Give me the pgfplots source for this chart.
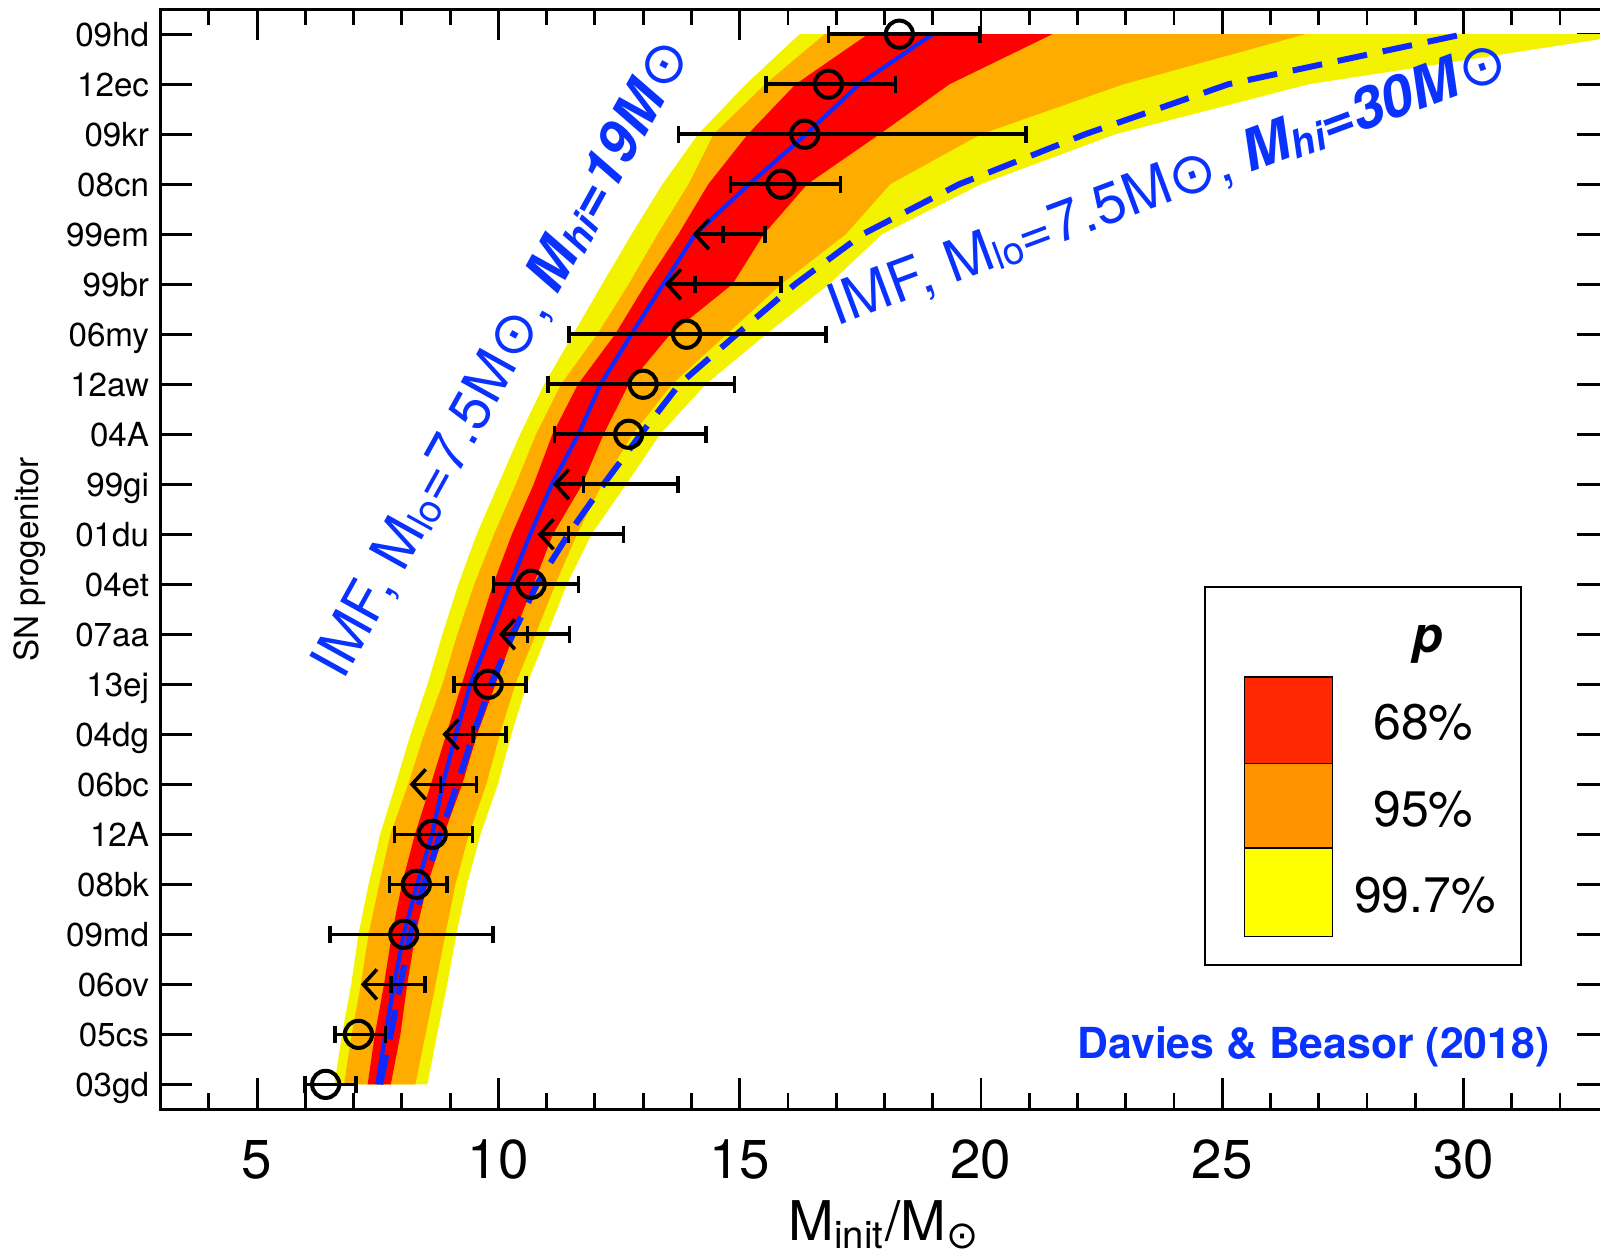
\documentclass[border=0pt]{standalone}
\usepackage{fontspec}
\setmainfont{TeX Gyre Heros}
\newfontfamily\dejavu{DejaVu Sans}
\usepackage{pgfplots}
\pgfplotsset{compat=1.18}
\usetikzlibrary{arrows.meta}
\definecolor{bandred}{RGB}{255,0,0}
\definecolor{bandorange}{RGB}{255,172,0}
\definecolor{bandyellow}{RGB}{243,243,0}
\definecolor{legred}{RGB}{255,40,0}
\definecolor{legorange}{RGB}{255,148,0}
\definecolor{legyellow}{RGB}{255,255,0}
\definecolor{lineblue}{RGB}{15,40,255}
\definecolor{textblue}{RGB}{10,50,255}
\newcommand\sun{{\dejavu ⊙}}
\newcommand\lo{\raisebox{-1pt}{\fontsize{9.7}{9.7}\selectfont lo}}
\newcommand\hi{\raisebox{-1pt}{\fontsize{9.7}{9.7}\selectfont hi}}
\begin{document}
\begin{tikzpicture}
\begin{axis}[
  scale only axis, width=362.3pt, height=275.35pt,
  xmin=3, xmax=33, ymin=-0.5, ymax=21.5,
  axis line style={line width=0.7pt},
  xtick={5,10,...,30}, minor xtick={3,4,...,33},
  ytick={0,...,21},
  yticklabels={03gd,05cs,06ov,09md,08bk,12A,06bc,04dg,13ej,07aa,04et,01du,99gi,04A,12aw,06my,99br,99em,08cn,09kr,12ec,09hd},
  tick align=inside,
  major tick length=7.8pt, minor tick length=4pt,
  every tick/.style={black, line width=0.7pt},
  /pgf/number format/assume math mode=true,
  xticklabel style={font=\fontsize{13.7}{15}\selectfont, anchor=base, yshift=-17.3pt},
  yticklabel style={font=\fontsize{8.3}{9}\selectfont, anchor=base east, inner sep=0pt, xshift=-2.7pt, yshift=-3pt},
  xlabel={M\textsubscript{init}/M\textsubscript{\sun}},
  xlabel style={font=\fontsize{13.7}{15}\selectfont, at={(axis description cs:0.5,-0.119)}, anchor=base, inner sep=0pt},
  ylabel={SN progenitor},
  ylabel style={font=\fontsize{8.3}{9}\selectfont, at={(axis description cs:-0.0903,0.5)}, anchor=center, inner sep=0pt},
]
% yellow band (99.7%)
\addplot[fill=bandyellow, draw=none] coordinates {
(6.60,0) (6.76,1) (6.95,2) (7.10,3) (7.31,4) (7.55,5) (7.87,6) (8.18,7) (8.53,8) (8.84,9) (9.17,10)
(9.55,11) (10.0,12) (10.45,13) (10.95,14) (11.55,15) (12.15,16) (12.76,17) (13.4,18) (14.14,19) (15.13,20) (16.24,21)
(33.5,21) (26.8,20) (22.79,19) (20.0,18) (17.95,17) (16.85,16) (15.55,15) (14.3,14) (13.35,13) (12.65,12) (11.93,11)
(11.42,10) (11.01,9) (10.59,8) (10.27,7) (9.99,6) (9.63,5) (9.35,4) (9.13,3) (8.94,2) (8.73,1) (8.53,0)
} -- cycle;
% orange band (95%)
\addplot[fill=bandorange, draw=none] coordinates {
(6.80,0) (6.96,1) (7.15,2) (7.31,3) (7.53,4) (7.76,5) (8.13,6) (8.46,7) (8.84,8) (9.15,9) (9.5,10)
(9.91,11) (10.36,12) (10.78,13) (11.3,14) (12.05,15) (12.7,16) (13.3,17) (13.94,18) (14.46,19) (15.53,20) (16.76,21)
(26.72,21) (22.96,20) (20.0,19) (18.12,18) (17.2,17) (15.86,16) (14.73,15) (13.6,14) (12.78,13) (12.15,12) (11.63,11)
(11.18,10) (10.77,9) (10.35,8) (10.03,7) (9.75,6) (9.39,5) (9.11,4) (8.90,3) (8.70,2) (8.49,1) (8.28,0)
} -- cycle;
% red band (68%)
\addplot[fill=bandred, draw=none] coordinates {
(7.29,0) (7.44,1) (7.63,2) (7.79,3) (8.00,4) (8.27,5) (8.6,6) (8.92,7) (9.24,8) (9.56,9) (9.89,10)
(10.28,11) (10.73,12) (11.12,13) (11.65,14) (12.42,15) (13.05,16) (13.73,17) (14.35,18) (15.17,19) (16.16,20) (17.66,21)
(21.48,21) (19.35,20) (17.9,19) (16.4,18) (15.5,17) (14.85,16) (13.56,15) (12.7,14) (12.18,13) (11.74,12) (11.13,11)
(10.73,10) (10.32,9) (9.94,8) (9.56,7) (9.25,6) (8.87,5) (8.53,4) (8.28,3) (8.11,2) (7.97,1) (7.77,0)
} -- cycle;
% IMF Mhi=19 (solid)
\addplot[lineblue, line width=1.05pt] coordinates {
(7.49,0) (7.66,1) (7.84,2) (8.04,3) (8.32,4) (8.63,5) (8.85,6) (9.12,7) (9.42,8) (9.84,9) (10.25,10)
(10.66,11) (11.11,12) (11.66,13) (12.12,14) (12.76,15) (13.42,16) (14.08,17) (15.2,18) (16.38,19) (17.48,20) (19.0,21)
};
% IMF Mhi=30 (dashed)
\addplot[lineblue, line width=1.5pt, dash pattern=on 7.5pt off 4pt] coordinates {
(7.55,0) (7.77,1) (7.97,2) (8.18,3) (8.46,4) (8.80,5) (9.15,6) (9.48,7) (9.85,8) (10.3,9) (10.80,10)
(11.45,11) (12.18,12) (12.95,13) (13.75,14) (14.94,15) (16.15,16) (17.55,17) (19.55,18) (22.16,19) (25.13,20) (30.0,21)
};
% detections
\addplot[black, only marks, mark=o, mark size=3.4pt, mark options={line width=1pt},
  error bars/.cd, x dir=both, x explicit, error mark=|,
  error bar style={line width=0.9pt},
  error mark options={black, mark size=2.1pt, line width=0.9pt}]
table[x=x, y=y, x error plus=ep, x error minus=em] {
x y em ep
18.31 21 1.47 1.67
16.84 20 1.29 1.39
16.35 19 2.62 4.58
15.86 18 1.05 1.23
13.90 15 2.44 2.89
13.00 14 1.97 1.89
12.70 13 1.54 1.60
10.68 10 0.78 0.98
9.79 8 0.71 0.78
8.63 5 0.78 0.83
8.30 4 0.56 0.63
8.04 3 1.53 1.85
7.10 1 0.48 0.56
6.42 0 0.43 0.63
};
% upper limits
\addplot[black, only marks, mark=|, mark size=2.1pt, mark options={line width=0.9pt},
  error bars/.cd, x dir=plus, x explicit, error mark=|,
  error bar style={line width=0.9pt},
  error mark options={black, mark size=2.1pt, line width=0.9pt}]
table[x=x, y=y, x error plus=ep] {
x y ep
14.65 17 0.88
14.07 16 1.79
11.76 12 1.96
11.45 11 1.14
10.60 9 0.87
9.48 7 0.68
8.80 6 0.75
7.77 2 0.71
};
\addplot[black, line width=0.9pt, -{Straight Barb[length=3.4pt,width=7.5pt,line width=0.9pt]},
  quiver={u=\thisrow{u}, v=0}]
table {
x y u
14.65 17 -0.62
14.07 16 -0.62
11.76 12 -0.63
11.45 11 -0.64
10.60 9 -0.59
9.48 7 -0.64
8.80 6 -0.64
7.77 2 -0.62
};
% annotations
\node[rotate=61, anchor=base west, inner sep=0pt, text=textblue, font=\fontsize{14.3}{14}\selectfont]
  at (axis cs:6.78,8.04) {IMF, M\lo=7.5M\sun, \textbf{\textit{M\hi=19M}}\sun};
\node[rotate=20.4, anchor=base west, inner sep=0pt, text=textblue, font=\fontsize{14.3}{14}\selectfont]
  at (axis cs:17.0,15.15) {IMF, M\lo=7.5M\sun, \textbf{\textit{M\hi=30M}}\sun};
\node[anchor=base east, inner sep=0pt, text=textblue, font=\fontsize{10.7}{11}\selectfont\bfseries]
  at (axis cs:31.8,0.51) {Davies \& Beasor (2018)};
% legend
\draw[line width=0.5pt, fill=white] (axis cs:24.65,2.38) rectangle (axis cs:31.2,9.94);
\filldraw[fill=legred, draw=black, line width=0.4pt] (axis cs:25.46,6.42) rectangle (axis cs:27.29,8.15);
\filldraw[fill=legorange, draw=black, line width=0.4pt] (axis cs:25.46,4.73) rectangle (axis cs:27.29,6.42);
\filldraw[fill=legyellow, draw=black, line width=0.4pt] (axis cs:25.46,2.96) rectangle (axis cs:27.29,4.73);
\node[font=\fontsize{12.5}{13}\selectfont\bfseries\itshape] at (axis cs:29.27,8.8) {p};
\node[font=\fontsize{12.5}{13}\selectfont] at (axis cs:29.17,7.24) {68\%};
\node[font=\fontsize{12.5}{13}\selectfont] at (axis cs:29.17,5.51) {95\%};
\node[font=\fontsize{12.5}{13}\selectfont] at (axis cs:29.2,3.78) {99.7\%};
\coordinate (BL) at (rel axis cs:0,0);
\coordinate (TR) at (axis cs:32.83,21.5);
\end{axis}
\pgfresetboundingbox
\path[use as bounding box] ([xshift=-40.2pt,yshift=-35.8pt]BL) rectangle ([yshift=2.3pt]TR);
\end{tikzpicture}
\end{document}
